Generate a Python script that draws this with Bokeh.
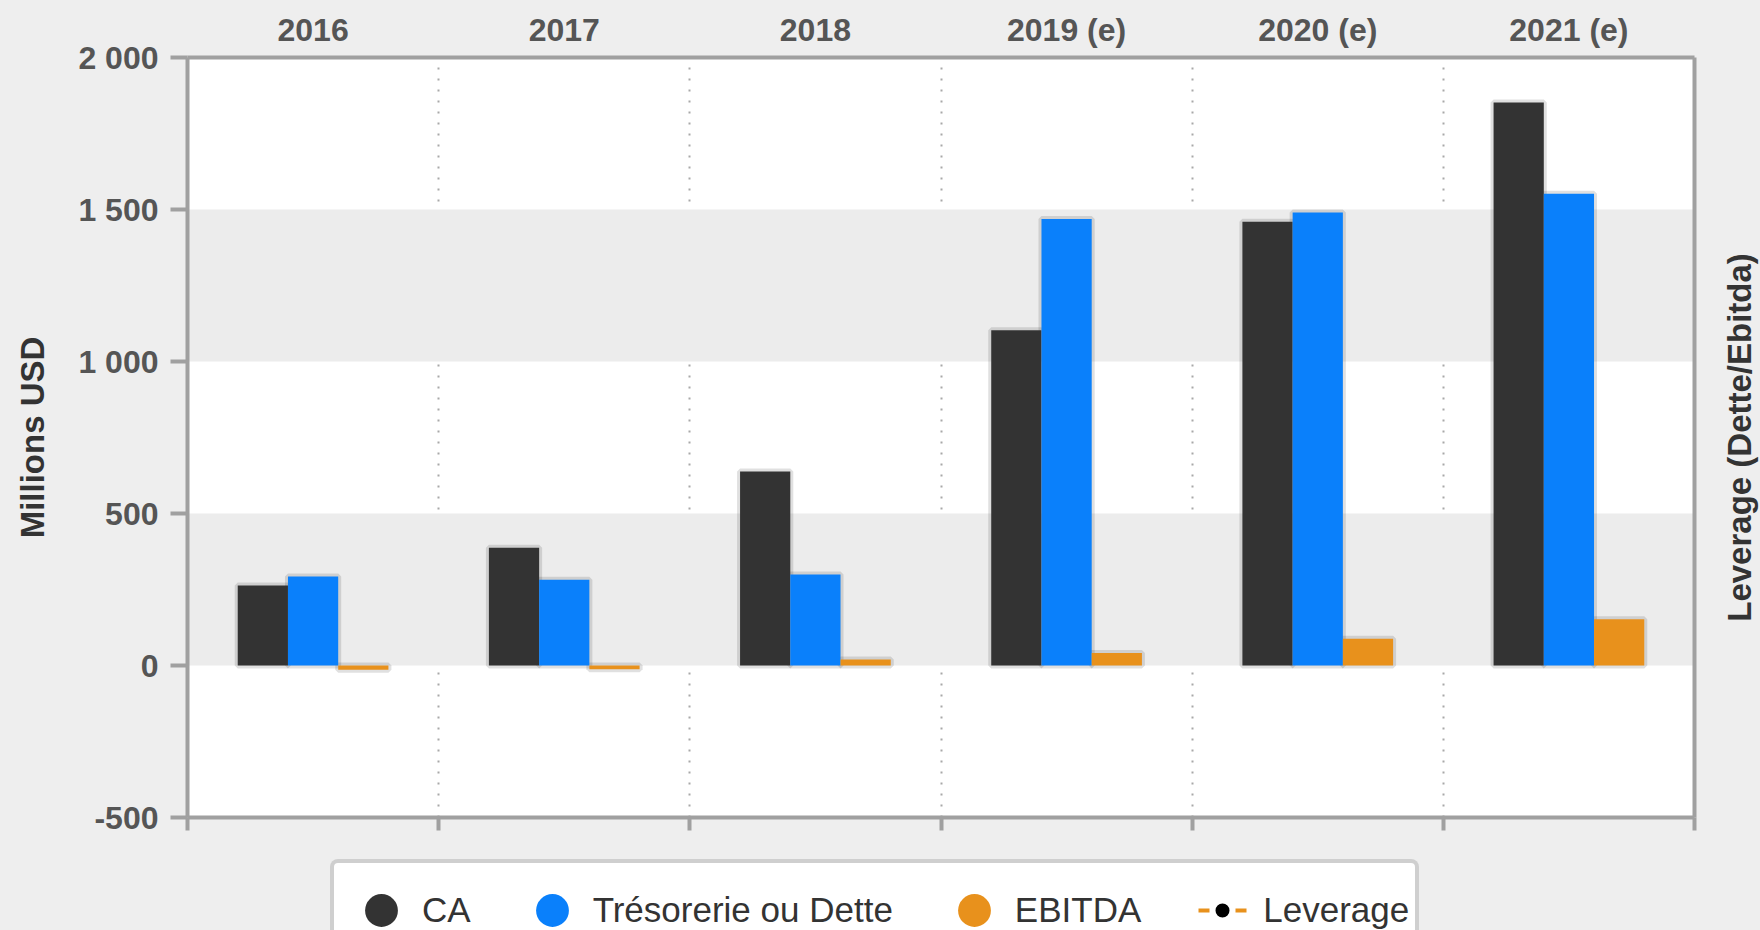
from bokeh.plotting import figure
from bokeh.layouts import column, row
from bokeh.models import (ColumnDataSource, Range1d, LinearAxis,
                          FixedTicker, Legend, LegendItem)
from bokeh.transform import dodge
from bokeh.embed import file_html
from bokeh.resources import INLINE

# ---------------- data ----------------
years = ["2016", "2017", "2018", "2019 (e)", "2020 (e)", "2021 (e)"]
ca = [263, 387, 638, 1103, 1460, 1852]
tresorerie = [293, 282, 299, 1469, 1490, 1552]
ebitda = [-14, -12, 20, 41, 88, 152]
leverage = [None, None, None, None, None, None]   # no visible leverage points
y_ticks = [-500, 0, 500, 1000, 1500, 2000]
y_tick_labels = ["-500", "0", "500", "1 000", "1 500", "2 000"]
series_names = ["CA", "Trésorerie ou Dette", "EBITDA", "Leverage"]
y_title = "Millions USD"
y2_title = "Leverage (Dette/Ebitda)"

# ---------------- style ----------------
FONT = "Liberation Sans"
AX = "#a0a0a0"
BG = "#eeeeee"
C_CA = "#333333"
C_TR = "#0a80fb"
C_EB = "#e8911c"
TXT = "#555555"

n = len(years)
centers = [i + 0.5 for i in range(n)]          # category slots on a numeric axis
bounds = list(range(n + 1))                     # category boundaries

src = ColumnDataSource(dict(
    xc=centers, year=years, ca=ca, tres=tresorerie, ebitda=ebitda,
    lev=[float("nan") if v is None else v for v in leverage],
))

# ================= main chart =================
p = figure(width=1700, height=850,
           x_range=Range1d(0, n), y_range=Range1d(-500, 2000),
           output_backend="svg", toolbar_location=None,
           x_axis_location="above",
           min_border_left=187, min_border_right=6,
           min_border_top=57, min_border_bottom=33,
           background_fill_color="white", border_fill_color=BG,
           outline_line_color=None)

p.extra_y_ranges = {"lev": Range1d(0, 1)}

# horizontal bands
yg = p.ygrid[0]
yg.ticker = FixedTicker(ticks=y_ticks)
yg.grid_line_color = None
yg.band_fill_color = "#ececec"
yg.band_fill_alpha = 1

# vertical dotted separators between categories
xg = p.xgrid[0]
xg.ticker = FixedTicker(ticks=bounds[1:-1])
xg.grid_line_color = "#a8a8a8"
xg.grid_line_width = 2
xg.grid_line_dash = "2 9"

# bars (with a soft shadow)
offsets = [-0.2, 0.0, 0.2]
cols = ["ca", "tres", "ebitda"]
colors = [C_CA, C_TR, C_EB]
for off, col in zip(offsets, cols):
    p.vbar(x=dodge("xc", off), top=col, bottom=0, width=0.2,
           source=src, fill_color=None, line_color="black", line_alpha=0.12,
           line_width=6)
for off, col, c in zip(offsets, cols, colors):
    p.vbar(x=dodge("xc", off), top=col, bottom=0, width=0.2,
           source=src, fill_color=c, line_color=None)

# leverage series (secondary axis; no visible points)
p.line(x="xc", y="lev", source=src, y_range_name="lev",
       line_color=C_EB, line_width=4, line_dash="6 4")
p.scatter(x="xc", y="lev", source=src, y_range_name="lev",
          marker="circle", size=10, line_color="black", fill_color="black")

# top (category) axis
xa = p.xaxis[0]
xa.ticker = FixedTicker(ticks=centers)
xa.major_label_overrides = dict(zip(centers, years))
xa.major_label_text_font = FONT
xa.major_label_text_font_size = "32px"
xa.major_label_text_font_style = "bold"
xa.major_label_text_color = TXT
xa.major_tick_line_color = None
xa.minor_tick_line_color = None
xa.major_tick_out = 0
xa.major_tick_in = 0
xa.major_label_standoff = 10
xa.axis_line_color = AX
xa.axis_line_width = 4

# bottom axis: ticks at category boundaries, no labels
bax = LinearAxis(ticker=FixedTicker(ticks=bounds),
                 major_label_overrides={b: "" for b in bounds})
bax.major_label_text_font_size = "1px"
bax.axis_line_color = AX
bax.axis_line_width = 4
bax.major_tick_line_color = AX
bax.major_tick_line_width = 4
bax.major_tick_in = 0
bax.major_tick_out = 13
bax.minor_tick_line_color = None
p.add_layout(bax, "below")

# left axis
ya = p.yaxis[0]
ya.ticker = FixedTicker(ticks=y_ticks)
ya.major_label_overrides = dict(zip(y_ticks, y_tick_labels))
ya.major_label_text_font = FONT
ya.major_label_text_font_size = "32px"
ya.major_label_text_font_style = "bold"
ya.major_label_text_color = TXT
ya.major_label_standoff = 12
ya.major_tick_line_color = AX
ya.major_tick_line_width = 4
ya.major_tick_in = 0
ya.major_tick_out = 17
ya.minor_tick_line_color = None
ya.axis_line_color = AX
ya.axis_line_width = 4
ya.axis_label = y_title
ya.axis_label_text_font = FONT
ya.axis_label_text_font_size = "33px"
ya.axis_label_text_font_style = "bold"
ya.axis_label_text_color = "#333333"
ya.axis_label_standoff = 24

# right axis line (leverage scale, no ticks)
rax = LinearAxis(y_range_name="lev", ticker=FixedTicker(ticks=[]))
rax.major_tick_out = 0
rax.major_tick_in = 0
rax.minor_tick_line_color = None
rax.major_tick_line_color = None
rax.axis_line_color = AX
rax.axis_line_width = 4
p.add_layout(rax, "right")

# ========== right-hand title strip (reads bottom-to-top) ==========
pr = figure(width=60, height=850, x_range=Range1d(0, 1), y_range=Range1d(0, 1),
            output_backend="svg", toolbar_location=None, x_axis_type=None,
            min_border_left=57, min_border_right=0,
            min_border_top=57, min_border_bottom=33,
            background_fill_color=BG, border_fill_color=BG,
            outline_line_color=None)
pr.ygrid.visible = False
lax = pr.yaxis[0]
lax.ticker = FixedTicker(ticks=[])
lax.axis_line_color = None
lax.major_tick_line_color = None
lax.minor_tick_line_color = None
lax.major_tick_out = 0
lax.major_tick_in = 0
lax.axis_label = y2_title
lax.axis_label_text_font = FONT
lax.axis_label_text_font_size = "33px"
lax.axis_label_text_font_style = "bold"
lax.axis_label_text_color = "#333333"
lax.axis_label_standoff = 0

# ================= legend strip =================
leg = figure(width=1760, height=80, x_range=Range1d(0, 1), y_range=Range1d(0, 1),
             output_backend="svg", toolbar_location=None,
             x_axis_type=None, y_axis_type=None, min_border=0,
             background_fill_color=BG, border_fill_color=BG,
             outline_line_color=None)
r_ca = leg.scatter(x="xc", y="ca", source=src, marker="circle",
                   fill_color=C_CA, line_color=None, visible=False)
r_tr = leg.scatter(x="xc", y="tres", source=src, marker="circle",
                   fill_color=C_TR, line_color=None, visible=False)
r_eb = leg.scatter(x="xc", y="ebitda", source=src, marker="circle",
                   fill_color=C_EB, line_color=None, visible=False)
# leverage symbol: short orange dashes around a black dot
r_lv_dash = leg.line(x="xc", y="lev", source=src, line_color=C_EB,
                     line_width=4, line_dash="0 17 11 26 11 17", visible=False)
r_lv_dot = leg.line(x="xc", y="lev", source=src, line_color="black",
                    line_width=14, line_cap="round", line_dash="0 41",
                    visible=False)
r_lv_mask = leg.line(x="xc", y="lev", source=src, line_color="white",
                     line_width=17, line_cap="round", line_dash="0 82",
                     visible=False)

legend = Legend(
    items=[LegendItem(label=series_names[0], renderers=[r_ca]),
           LegendItem(label=series_names[1], renderers=[r_tr]),
           LegendItem(label=series_names[2], renderers=[r_eb]),
           LegendItem(label=series_names[3],
                      renderers=[r_lv_dash, r_lv_dot, r_lv_mask])],
    orientation="horizontal", location=(330, -31),
    glyph_width=82, glyph_height=82, label_standoff=0, spacing=40,
    padding=6, margin=0,
    label_text_font=FONT, label_text_font_size="35px",
    label_text_color="#333333",
    border_line_color=AX, border_line_width=4,
    background_fill_color="white", background_fill_alpha=1,
    inactive_fill_alpha=0,
)
try:
    legend.border_radius = 8
except Exception:
    pass
leg.add_layout(legend)

layout = column(row(p, pr, styles={"background-color": BG}), leg,
                styles={"background-color": BG})

with open("out.html", "w", encoding="utf-8") as f:
    f.write(file_html(layout, INLINE))
